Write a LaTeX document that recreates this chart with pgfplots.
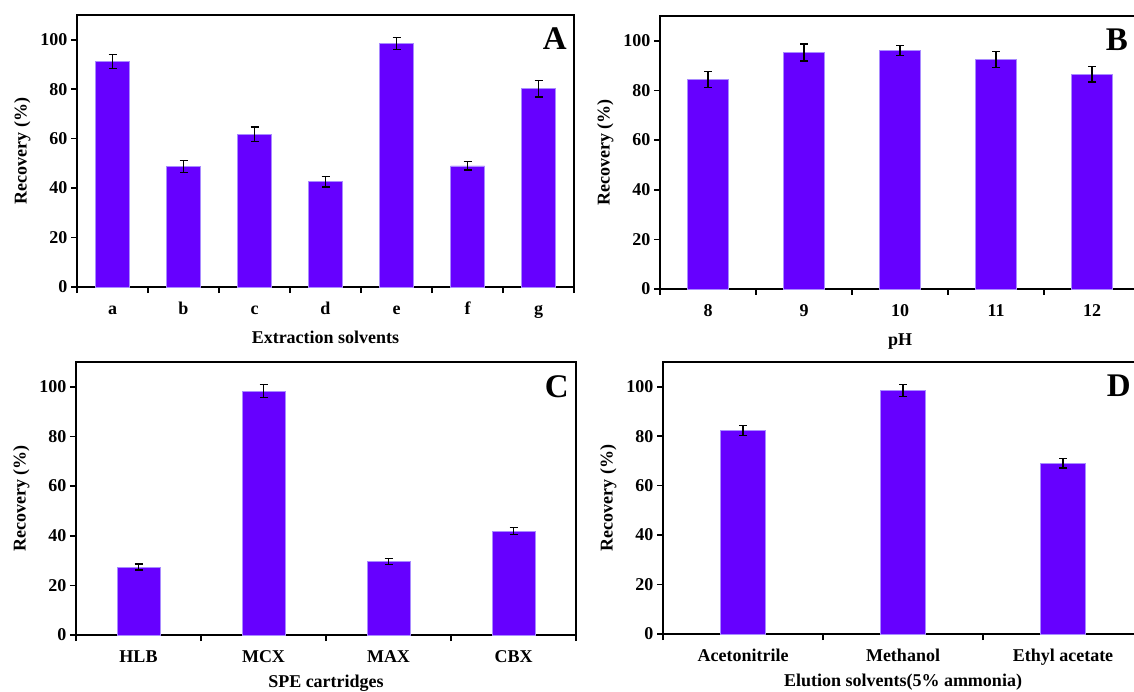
\documentclass[border=0pt]{standalone}
\usepackage{fontspec}
\setmainfont{Liberation Serif}
\usepackage{pgfplots}
\pgfplotsset{compat=1.18}
\definecolor{barc}{HTML}{6600FF}
\definecolor{barl}{HTML}{A98BFF}
\tikzset{letter/.style={anchor=north east, inner sep=0pt, font=\fontsize{33}{35}\bfseries\selectfont}}
\pgfplotsset{
 panel/.style={
  scale only axis, anchor=south west,
  ymin=0, ymax=110, ytick={0,20,...,100},
  axis line style={line width=2pt},
  every tick/.style={black, line width=1.6pt},
  tick align=outside, major tick length=6pt,
  tick pos=left,
  xticklabels={},
  extra x tick style={major tick length=0pt},
  xticklabel style={text height=12pt, text depth=4pt, yshift=-12pt},
  /pgf/number format/assume math mode=true,
  ticklabel style={font=\fontsize{18}{20}\bfseries\selectfont},
  label style={font=\fontsize{18}{20}\bfseries\selectfont},
  xlabel style={text height=12pt, text depth=4pt, yshift=6pt},
  ylabel={Recovery (\%)},
  ylabel style={yshift=3pt},
  enlarge x limits=false,
  clip=false,
 },
 bars/.style={ybar, bar shift=0pt, fill=barc, draw=barl, line width=0.6pt,
  error bars/.cd, y dir=both, y explicit,
  error bar style={line width=1.2pt, black},
  error mark options={rotate=90, mark size=4pt, line width=1.2pt, black},
  /pgfplots/.cd},
}
\begin{document}
\begin{tikzpicture}
% Panel A
\begin{axis}[panel, at={(77pt,404pt)}, width=497pt, height=272pt,
  xmin=-0.5, xmax=6.5, xtick={-0.5,0.5,...,6.5},
  extra x ticks={0,1,2,3,4,5,6}, extra x tick labels={a,b,c,d,e,f,g},
  xlabel={Extraction solvents}]
\addplot[bars, bar width=34pt] coordinates {
 (0,91.1) +- (0,2.8)
 (1,48.7) +- (0,2.5)
 (2,61.7) +- (0,3.0)
 (3,42.6) +- (0,2.2)
 (4,98.5) +- (0,2.5)
 (5,49.0) +- (0,1.7)
 (6,80.2) +- (0,3.4)
};
\node[letter] at (rel axis cs:1,1) [xshift=-7pt, yshift=-13pt] {A};
\end{axis}
% Panel B
\begin{axis}[panel, at={(660pt,402pt)}, width=480pt, height=273pt,
  xmin=-0.5, xmax=4.5, xtick={-0.5,0.5,...,4.5},
  extra x ticks={0,1,2,3,4}, extra x tick labels={8,9,10,11,12},
  xlabel={pH}]
\addplot[bars, bar width=41pt] coordinates {
 (0,84.4) +- (0,3.3)
 (1,95.3) +- (0,3.4)
 (2,96.1) +- (0,2.0)
 (3,92.5) +- (0,3.2)
 (4,86.5) +- (0,3.1)
};
\node[letter] at (rel axis cs:1,1) [xshift=-12pt, yshift=-13pt] {B};
\end{axis}
% Panel C
\begin{axis}[panel, at={(76pt,56pt)}, width=500pt, height=273pt,
  xmin=-0.5, xmax=3.5, xtick={-0.5,0.5,...,3.5},
  extra x ticks={0,1,2,3}, extra x tick labels={HLB,MCX,MAX,CBX},
  xlabel={SPE cartridges}, xlabel style={yshift=4pt}]
\addplot[bars, bar width=43pt] coordinates {
 (0,27.4) +- (0,1.2)
 (1,98.3) +- (0,2.6)
 (2,29.7) +- (0,1.2)
 (3,41.9) +- (0,1.5)
};
\node[letter] at (rel axis cs:1,1) [xshift=-7pt, yshift=-13pt] {C};
\end{axis}
% Panel D
\begin{axis}[panel, at={(663pt,57pt)}, width=480pt, height=272pt,
  xmin=-0.5, xmax=2.5, xtick={-0.5,0.5,...,2.5},
  extra x ticks={0,1,2}, extra x tick labels={Acetonitrile,Methanol,Ethyl acetate},
  xlabel={Elution solvents(5\% ammonia)}, xlabel style={yshift=4pt}]
\addplot[bars, bar width=45pt] coordinates {
 (0,82.3) +- (0,2.0)
 (1,98.5) +- (0,2.4)
 (2,69.1) +- (0,2.0)
};
\node[letter] at (rel axis cs:1,1) [xshift=-12pt, yshift=-13pt] {D};
\end{axis}
\pgfresetboundingbox
\useasboundingbox (0pt,0pt) rectangle (1134pt,691pt);
\end{tikzpicture}
\end{document}
